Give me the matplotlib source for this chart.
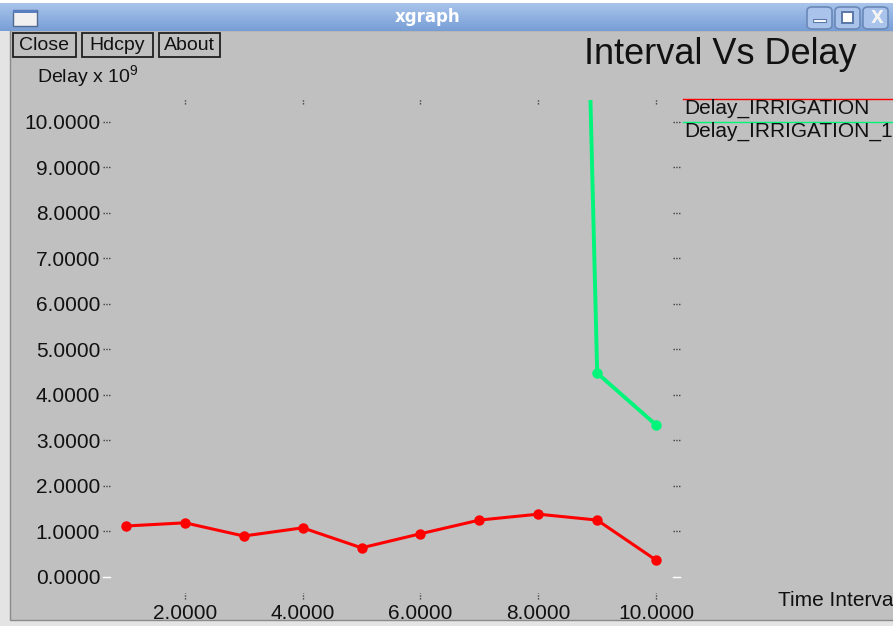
import numpy as np
import matplotlib
matplotlib.use("Agg")
import matplotlib.pyplot as plt
from matplotlib.patches import Rectangle, FancyBboxPatch

plt.rcParams['font.family'] = ['Liberation Sans', 'DejaVu Sans']
plt.rcParams['mathtext.fontset'] = 'custom'
plt.rcParams['mathtext.rm'] = 'Liberation Sans'

# data
interval = [1, 2, 3, 4, 5, 6, 7, 8, 9, 10]
delay_irrigation = [1.12, 1.19, 0.90, 1.08, 0.64, 0.95, 1.25, 1.38, 1.25, 0.37]
interval_1 = [8, 9, 10]
delay_irrigation_1 = [57.0, 4.48, 3.34]

xticks = [2, 4, 6, 8, 10]
yticks = [0, 1, 2, 3, 4, 5, 6, 7, 8, 9, 10]

W, H = 893, 626
BG = '#c0c0c0'
FS = 15


def fx(px):
  return px / W


def fy(py):
  return 1 - py / H


fig = plt.figure(figsize=(W / 100, H / 100), dpi=100)
fig.patch.set_facecolor('#e4e4e4')

# white strip above the title bar
fig.patches.append(Rectangle((0, fy(3)), 1, 3 / H, transform=fig.transFigure,
                             facecolor='white', edgecolor='none', zorder=-6))

# window body (kept behind the axes)
fig.patches.append(Rectangle((fx(10), fy(620)), 1, (620 - 30) / H, transform=fig.transFigure,
                             facecolor=BG, edgecolor='#8a8a8a', linewidth=1, zorder=-5))

# title bar with a vertical gradient
tb_ax = fig.add_axes([0, fy(31), 1, 28 / H])
grad = np.linspace(0, 1, 64).reshape(-1, 1)
top_c = np.array([0.66, 0.77, 0.92])
bot_c = np.array([0.47, 0.62, 0.84])
img = top_c[None, None, :] * (1 - grad[:, :, None]) + bot_c[None, None, :] * grad[:, :, None]
tb_ax.imshow(img, aspect='auto', extent=[0, 1, 0, 1])
tb_ax.set_axis_off()
fig.text(fx(428), fy(17), 'xgraph', color='white', fontsize=12, fontweight='bold',
         ha='center', va='center', family=['DejaVu Sans'])

# window icon on the left
fig.patches.append(Rectangle((fx(13), fy(26)), 24 / W, 16 / H, transform=fig.transFigure,
                             facecolor='#f0f0f0', edgecolor='#506a90', linewidth=1))
fig.patches.append(Rectangle((fx(13), fy(13)), 24 / W, 3 / H, transform=fig.transFigure,
                             facecolor='#5a7fc0', edgecolor='none'))

# minimise / maximise / close buttons
for x0 in [807, 835, 863]:
  fig.patches.append(FancyBboxPatch((fx(x0), fy(29)), 25 / W, 22 / H, transform=fig.transFigure,
                                    boxstyle='round,pad=0,rounding_size=0.006',
                                    facecolor='#a9c3ea', edgecolor='#6a88b8', linewidth=1.2))
fig.patches.append(Rectangle((fx(813), fy(22)), 13 / W, 3 / H, transform=fig.transFigure,
                             facecolor='white', edgecolor='#5a78a8', linewidth=0.8))
fig.patches.append(Rectangle((fx(842), fy(23)), 11 / W, 11 / H, transform=fig.transFigure,
                             facecolor='white', edgecolor='#5a78a8', linewidth=1.4))
fig.text(fx(877), fy(18), 'X', color='#f4f4f4', fontsize=12, fontweight='bold',
         ha='center', va='center', family=['DejaVu Sans'])

# xgraph buttons
for label, x0, x1 in [('Close', 13, 76), ('Hdcpy', 82, 153), ('About', 159, 220)]:
  fig.patches.append(Rectangle((fx(x0), fy(57)), (x1 - x0) / W, 24 / H, transform=fig.transFigure,
                               facecolor=BG, edgecolor='#202020', linewidth=1.3))
  fig.text(fx((x0 + x1) / 2), fy(45), label, fontsize=14, ha='center', va='center', color='#111111')

fig.text(fx(720), fy(55), 'Interval Vs Delay', fontsize=26, ha='center', va='center', color='#111111')
fig.text(fx(37), fy(77), 'Delay x 10$^9$', fontsize=14, ha='left', va='center', color='#111111')
fig.text(fx(778), fy(600), 'Time Interval', fontsize=FS, ha='left', va='center', color='#111111')

# plot area
left, right, top, bottom = 103, 677, 100, 596
ax = fig.add_axes([fx(left), fy(bottom), (right - left) / W, (bottom - top) / H])
ax.set_facecolor(BG)
for s in ax.spines.values():
  s.set_visible(False)

ax.plot(interval, delay_irrigation, color='#ff0000', linewidth=2.2, marker='o', markersize=6.5)
ax.plot(interval_1, delay_irrigation_1, color='#00f57a', linewidth=2.8, marker='o', markersize=6.5)

ax.set_xlim(0.61, 10.355)
ax.set_ylim(-0.418, 10.48)

ax.set_xticks(xticks)
ax.set_xticklabels([f'{v:.4f}' for v in xticks])
ax.set_yticks(yticks)
ax.set_yticklabels([f'{v:.4f}' for v in yticks])
ax.tick_params(axis='both', length=0, labelsize=FS, labelcolor='#111111')
ax.tick_params(axis='y', pad=2)
ax.tick_params(axis='x', pad=6)

# xgraph style little dotted tick marks
ytr = ax.get_yaxis_transform()
xtr = ax.get_xaxis_transform()
for v in yticks:
  c = 'white' if v == 0 else '#404040'
  ls = '-' if v == 0 else (0, (1, 1))
  ax.plot([0, 0.012], [v, v], transform=ytr, color=c, linewidth=1, linestyle=ls, clip_on=False)
  ax.plot([0.993, 1.005], [v, v], transform=ytr, color=c, linewidth=1, linestyle=ls, clip_on=False)
for v in xticks:
  ax.plot([v, v], [0.992, 1.002], transform=xtr, color='#404040', linewidth=1,
          linestyle=(0, (1, 1)), clip_on=False)
  ax.plot([v, v], [-0.006, 0.006], transform=xtr, color='#404040', linewidth=1,
          linestyle=(0, (1, 1)), clip_on=False)

# legend: coloured line above each name, running off the right edge
for i, (name, col) in enumerate([('Delay_IRRIGATION', '#ff0000'), ('Delay_IRRIGATION_1', '#00f57a')]):
  yl = 99 + 23 * i
  fig.add_artist(plt.Line2D([fx(683), 1.0], [fy(yl), fy(yl)], color=col, linewidth=1,
                            transform=fig.transFigure))
  fig.text(fx(684), fy(yl + 9), name, fontsize=FS, ha='left', va='center', color='#111111')

fig.savefig('out.png', dpi=100, facecolor=fig.get_facecolor())
